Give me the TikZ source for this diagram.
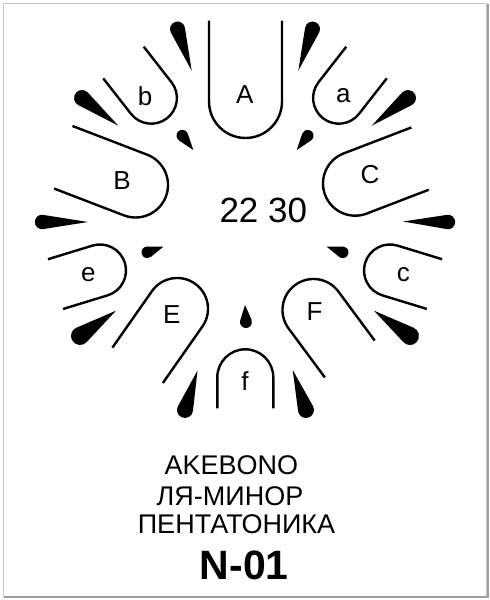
\documentclass[tikz,border=0pt]{standalone}
\usepackage{fontspec}
\setmainfont{Liberation Sans}
\newcommand\tongue[6]{%
  \draw[tline, shift={(#1,#2)}, rotate=#3] (#5,#4) -- (0,#4) arc[start angle=90, end angle=270, radius=#4] -- (#6,-#4);}
\newcommand\tear[5]{%
  \pgfmathsetmacro\tang{atan2(#5-#2,#4-#1)}%
  \pgfmathsetmacro\tdist{veclen(#4-#1,#5-#2)}%
  \pgfmathsetmacro\tphi{acos(#3/\tdist)}%
  \fill[shift={(#1,#2)}, rotate=\tang] (\tdist,0) -- (\tphi:#3) arc[start angle=\tphi, end angle=360-\tphi, radius=#3] -- cycle;}
\begin{document}
\begin{tikzpicture}[x=1pt,y=1pt,
  tline/.style={line width=2.4pt, black},
  lbl/.style={inner sep=0pt, font=\fontsize{26}{28}\selectfont},
  title/.style={inner sep=0pt, font=\fontsize{27}{30}\selectfont}]
\useasboundingbox (0,0) rectangle (490,600);
\fill[white] (0,0) rectangle (490,600);
% frame
\draw[gray!45, line width=1pt] (3.5,3.5) rectangle (486.5,596.5);
\draw[gray!75, line width=2pt] (487.5,596) -- (487.5,2.5) -- (4,2.5);
% tongues
\tongue{245.5}{498.5}{90}{36.5}{80.8}{80.8}
\tongue{151.2}{502}{128}{25.7}{45}{45}
\tongue{338.8}{502}{52}{25.7}{45}{45}
\tongue{135.5}{415}{159}{32.5}{74.7}{80}
\tongue{355.2}{416.5}{21}{32.2}{72.5}{66.5}
\tongue{100}{329.5}{197}{26}{46.5}{46.5}
\tongue{390}{329.5}{343}{26}{46.5}{46.5}
\tongue{177.2}{291.2}{235}{30.8}{69}{69}
\tongue{313.5}{290}{306.5}{31}{61}{61}
\tongue{245.3}{222.7}{270}{28}{31}{31}
% teardrops
\tear{177.5}{571}{7.5}{191.7}{529.3}
\tear{312.5}{571}{7.5}{298.3}{529.3}
\tear{82}{502}{8}{118.3}{474.3}
\tear{408}{502}{8}{371.7}{474.3}
\tear{182.3}{464.3}{5.8}{193.3}{450}
\tear{307.7}{464.3}{5.8}{296.7}{450}
\tear{42}{378}{7.2}{88}{378}
\tear{448}{378}{7.2}{403}{378.5}
\tear{147.3}{347.7}{5.8}{163.3}{353.3}
\tear{342.7}{347.7}{5.8}{326.7}{353.3}
\tear{80}{264}{9}{116}{289.3}
\tear{410}{264}{9}{374}{289.3}
\tear{185}{190}{8}{197.5}{229.5}
\tear{306}{190}{8}{292.7}{230}
\tear{246}{278}{6}{245}{295}
% labels
\node[lbl] (lA) at (244.7,505.3) {A};
\node[lbl] (lb) at (145,504) {b};
\node[lbl] (la) at (343.3,504.2) {a};
\node[lbl] (lB) at (122,419.2) {B};
\node[lbl] (lC) at (370,425.8) {C};
\node[lbl] (le) at (88.3,325) {e};
\node[lbl] (lc) at (403.3,325) {c};
\node[lbl] (lE) at (171.7,285) {E};
\node[lbl] (lF) at (314.5,288.3) {F};
\node[lbl] (lf) at (245,218.7) {f};
\node[inner sep=0pt, font=\fontsize{35}{38}\selectfont] (num) at (263.3,390) {22 30};
\node[title] (t1) at (231.3,135) {AKEBONO};
\node[title] (t2) at (230,103.3) {ЛЯ-МИНОР};
\node[title] (t3) at (236.5,75.5) {ПЕНТАТОНИКА};
\node[inner sep=0pt, font=\fontsize{41}{44}\selectfont\bfseries] (t4) at (244.2,35) {N-01};
\end{tikzpicture}
\end{document}
